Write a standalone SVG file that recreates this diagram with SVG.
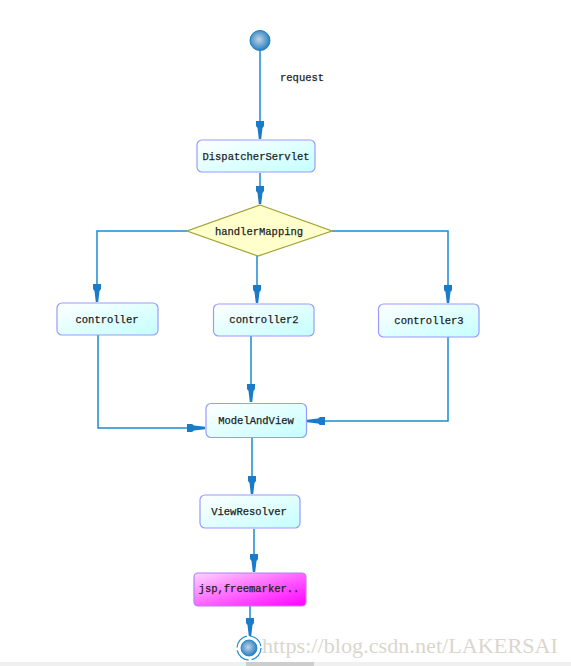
<svg xmlns="http://www.w3.org/2000/svg" width="571" height="666" viewBox="0 0 571 666">
  <defs>
    <style>
      .box { stroke: #9a9aff; stroke-width: 1.2; fill: url(#gBox); }
      .lbl { font-family: "Liberation Mono", "DejaVu Sans Mono", monospace; font-size: 10.5px; fill: #111; text-anchor: middle; stroke: #333; stroke-width: 0.25; }
      .edge { fill: none; stroke: #1a8ad0; stroke-width: 1.5; }
    </style>
    <linearGradient id="gBox" x1="0" y1="0" x2="1" y2="1">
      <stop offset="0" stop-color="#ffffff"/>
      <stop offset="1" stop-color="#c4ffff"/>
    </linearGradient>
    <linearGradient id="gJsp" x1="0" y1="0" x2="1" y2="1">
      <stop offset="0" stop-color="#ffd4ff"/>
      <stop offset="0.5" stop-color="#ff66ff"/>
      <stop offset="1" stop-color="#ff00ff"/>
    </linearGradient>
    <radialGradient id="gDot" cx="0.45" cy="0.45" r="0.6">
      <stop offset="0" stop-color="#c0d4e4"/>
      <stop offset="1" stop-color="#1a78c0"/>
    </radialGradient>
    <marker id="arr" markerUnits="userSpaceOnUse" markerWidth="20" markerHeight="12" viewBox="-18 -6 20 12" refX="0" refY="0" orient="auto">
      <path d="M-18,-4 L-13,-4 L-11,-2.5 L0,-1.2 L0,1.2 L-11,2.5 L-13,4 L-18,4 Z" fill="#1a7cc8"/>
    </marker>
  </defs>

  <rect x="0" y="662" width="571" height="4" fill="#f0f0f0"/>
  <rect x="246" y="662" width="68" height="4" fill="#cdcdcd"/>

  <g id="connectors">
    <path class="edge" d="M260,51 L260,139" marker-end="url(#arr)"/>
    <text x="280" y="81" class="lbl" style="text-anchor:start">request</text>
    <path class="edge" d="M260,173 L260,204" marker-end="url(#arr)"/>
    <path class="edge" d="M187,231 L97,231 L97,302" marker-end="url(#arr)"/>
    <path class="edge" d="M257,256 L257,303" marker-end="url(#arr)"/>
    <path class="edge" d="M332,231 L448,231 L448,303" marker-end="url(#arr)"/>
    <path class="edge" d="M98,335 L98,428 L205,428" marker-end="url(#arr)"/>
    <path class="edge" d="M251,336 L251,402" marker-end="url(#arr)"/>
    <path class="edge" d="M448,337 L448,421 L307,421" marker-end="url(#arr)"/>
    <path class="edge" d="M252,438 L252,494" marker-end="url(#arr)"/>
    <path class="edge" d="M254,529 L254,572" marker-end="url(#arr)"/>
    <path class="edge" d="M250,606 L250,636" marker-end="url(#arr)"/>
  </g>

  <g id="start">
    <circle cx="260" cy="40.5" r="10" fill="url(#gDot)" stroke="#1a7cc0" stroke-width="1"/>
  </g>

  <g id="dispatcherServlet">
    <rect class="box" x="197" y="140" width="118" height="32" rx="5"/>
    <text class="lbl" x="256" y="160">DispatcherServlet</text>
  </g>

  <g id="handlerMapping">
    <polygon points="260,205 332,231 258,256 187,231" fill="#ffffcc" stroke="#a0a030" stroke-width="1.2"/>
    <text class="lbl" x="259" y="235">handlerMapping</text>
  </g>

  <g id="controller">
    <rect class="box" x="57" y="303" width="101" height="32" rx="5"/>
    <text class="lbl" x="107" y="323">controller</text>
  </g>

  <g id="controller2">
    <rect class="box" x="213.5" y="304" width="100.5" height="32" rx="5"/>
    <text class="lbl" x="264" y="323">controller2</text>
  </g>

  <g id="controller3">
    <rect class="box" x="378.5" y="304" width="100.5" height="33" rx="5"/>
    <text class="lbl" x="429" y="324">controller3</text>
  </g>

  <g id="modelAndView">
    <rect class="box" x="206" y="403.5" width="100.5" height="34" rx="5"/>
    <text class="lbl" x="256" y="424">ModelAndView</text>
  </g>

  <g id="viewResolver">
    <rect class="box" x="200" y="495" width="100" height="33" rx="5"/>
    <text class="lbl" x="249" y="515">ViewResolver</text>
  </g>

  <g id="jsp">
    <rect x="194" y="573" width="112" height="33" rx="4" fill="url(#gJsp)" stroke="#b080ff" stroke-width="1.2"/>
    <text class="lbl" x="249" y="592">jsp,freemarker..</text>
  </g>

  <g id="end">
    <circle cx="249" cy="648" r="12" fill="none" stroke="#1a8ad0" stroke-width="1.2" stroke-dasharray="16 3"/>
    <circle cx="249" cy="648" r="8" fill="url(#gDot)" stroke="#1a7cc0" stroke-width="0.8"/>
  </g>

  <text x="262" y="653" font-family="Liberation Serif, serif" font-size="21" fill="#dad6ce" textLength="296" lengthAdjust="spacingAndGlyphs">https://blog.csdn.net/LAKERSAI</text>
</svg>
